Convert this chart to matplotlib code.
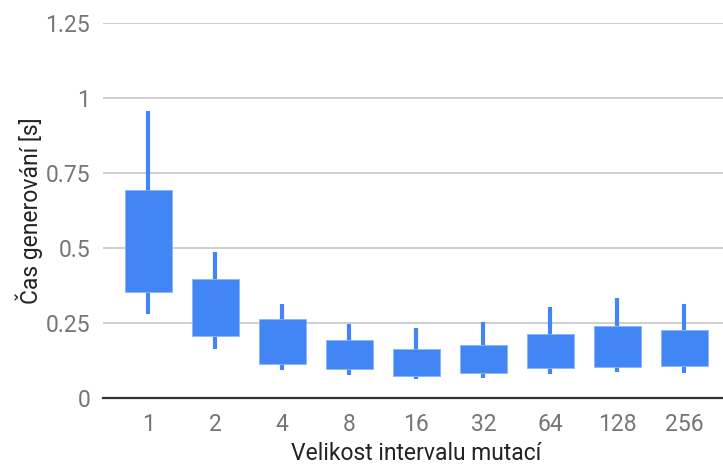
import numpy as np
import matplotlib
matplotlib.use("Agg")
import matplotlib.pyplot as plt

plt.rcParams['font.family'] = ['Roboto', 'DejaVu Sans']

# data
categories = ['1', '2', '4', '8', '16', '32', '64', '128', '256']
low = [0.279, 0.162, 0.095, 0.078, 0.064, 0.067, 0.080, 0.086, 0.085]
box_bottom = [0.354, 0.206, 0.115, 0.097, 0.075, 0.084, 0.100, 0.105, 0.107]
box_top = [0.692, 0.396, 0.262, 0.195, 0.164, 0.176, 0.213, 0.241, 0.226]
high = [0.958, 0.487, 0.315, 0.247, 0.235, 0.255, 0.302, 0.332, 0.312]

y_ticks = [0, 0.25, 0.5, 0.75, 1, 1.25]
y_tick_labels = ['0', '0.25', '0.5', '0.75', '1', '1.25']

blue = '#4285F4'
x = np.arange(len(categories))

fig = plt.figure(figsize=(7.23, 4.65), dpi=100)
ax = fig.add_axes([0.142, 0.144, 0.858 * 627 / 620, 0.8065])

# whiskers
ax.vlines(x, low, high, color=blue, linewidth=3, zorder=3)
# boxes
heights = np.array(box_top) - np.array(box_bottom)
ax.bar(x, heights, bottom=box_bottom, width=0.7, color=blue,
       edgecolor='#8ab4f8', linewidth=0.6, zorder=4)

ax.set_ylim(0, 1.25)
ax.set_xlim(-0.68, 8.68)
ax.set_yticks(y_ticks)
ax.set_yticklabels(y_tick_labels)
ax.set_xticks(x)
ax.set_xticklabels(categories)

ax.yaxis.grid(True, color='#cccccc', linewidth=1.3, zorder=0)
ax.set_axisbelow(True)
for s in ['top', 'right', 'left']:
    ax.spines[s].set_visible(False)
ax.spines['bottom'].set_color('#333333')
ax.spines['bottom'].set_linewidth(1.6)
ax.spines['bottom'].set_zorder(5)

ax.tick_params(axis='both', length=0, labelsize=16.5, labelcolor='#757575')
ax.tick_params(axis='x', pad=11)
ax.tick_params(axis='y', pad=9)

ax.set_xlabel('Velikost intervalu mutací', fontsize=16.5, color='#222222', labelpad=4)
ax.set_ylabel('Čas generování [s]', fontsize=16.5, color='#222222', labelpad=2)

fig.savefig('out.png', dpi=100)
